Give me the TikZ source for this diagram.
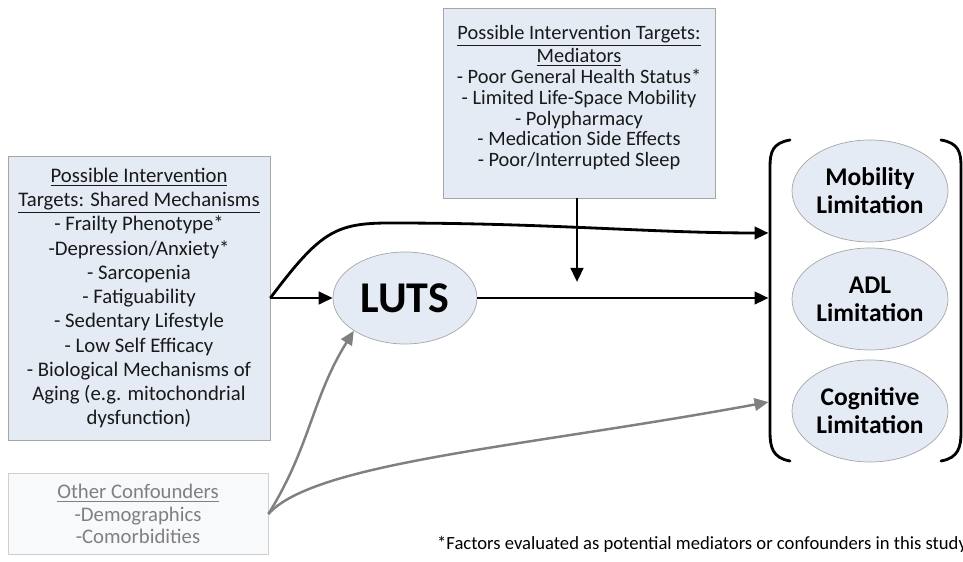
\documentclass[tikz,border=0pt]{standalone}
\usepackage{fontspec}
\setmainfont{Carlito}
\usepackage{tikz}
\usetikzlibrary{arrows.meta,shapes.geometric}
\definecolor{boxblue}{HTML}{E5EBF5}
\definecolor{boxedge}{HTML}{A6A6A6}
\definecolor{confgray}{HTML}{808080}
\definecolor{confedge}{HTML}{CFCFCF}
\definecolor{conffill}{HTML}{F8F9FB}

\begin{document}
\begin{tikzpicture}[
    tbox/.style={draw=boxedge,fill=boxblue,align=center,inner sep=2pt,text=black!90},
    oval/.style={ellipse,draw=boxedge,fill=boxblue,align=center,inner sep=0pt,font=\bfseries\fontsize{14.5}{16}\selectfont},
    bk/.style={-{Triangle[length=0.28cm,width=0.25cm]},line width=1.6pt},
    gr/.style={bk,draw=confgray,line width=1.4pt},
    paren/.style={line width=1.6pt,line cap=round}]
  \useasboundingbox (0,0) rectangle (19.26,11.24);
  \node[tbox,minimum width=5.24cm,minimum height=5.68cm,font=\fontsize{11.8}{13.8}\selectfont] (shared) at (2.78,5.28)
    {\underline{Possible Intervention}\\\underline{Targets: Shared Mechanisms}\\- Frailty Phenotype*\\-Depression/Anxiety*\\- Sarcopenia\\- Fatiguability\\- Sedentary Lifestyle\\- Low Self Efficacy\\- Biological Mechanisms of\\Aging (e.g. mitochondrial\\dysfunction)};
  \node[tbox,minimum width=5.44cm,minimum height=3.80cm,font=\fontsize{11.6}{11.9}\selectfont] (med) at (11.58,9.18)
    {\underline{Possible Intervention Targets:}\\\underline{Mediators}\\- Poor General Health Status*\\- Limited Life-Space Mobility\\- Polypharmacy\\- Medication Side Effects\\- Poor/Interrupted Sleep\\[-4pt]};
  \node[tbox,draw=confedge,fill=conffill,text=confgray,minimum width=5.2cm,minimum height=1.62cm,font=\fontsize{11.8}{12.8}\selectfont] (conf) at (2.76,0.96)
    {\underline{Other Confounders}\\-Demographics\\-Comorbidities};
  \node[oval,minimum width=2.88cm,minimum height=1.84cm,font=\bfseries\fontsize{25}{27}\selectfont] (luts) at (8.10,5.28) {LUTS};
  \node[oval,minimum width=3.12cm,minimum height=2.04cm] (mob) at (17.40,7.42) {Mobility\\Limitation};
  \node[oval,minimum width=3.12cm,minimum height=2.04cm] (adl) at (17.40,5.26) {ADL\\Limitation};
  \node[oval,minimum width=3.12cm,minimum height=2.04cm] (cog) at (17.40,3.02) {Cognitive\\Limitation};
  \node[anchor=west,font=\fontsize{10.6}{12}\selectfont] (note) at (8.62,0.36)
    {*Factors evaluated as potential mediators or confounders in this study};
  \draw[paren] (15.80,8.44) .. controls (15.45,8.38) and (15.40,8.2) .. (15.40,7.9) -- (15.40,2.6) .. controls (15.40,2.3) and (15.45,2.08) .. (15.80,2.02);
  \draw[paren] (18.82,8.44) .. controls (19.17,8.38) and (19.22,8.2) .. (19.22,7.9) -- (19.22,2.6) .. controls (19.22,2.3) and (19.17,2.08) .. (18.82,2.02);
  \coordinate (tomob) at (15.37,6.58);
  \coordinate (toadl) at (15.37,5.28);
  \coordinate (tocog) at (15.37,3.20);
  \coordinate (medtip) at (11.54,5.60);
  \draw[bk] (shared.east) -- (luts.west);
  \draw[bk] (shared.east) .. controls (6.4,6.6) and (6.7,6.78) .. (7.8,6.78) .. controls (11,6.78) and (13,6.58) .. (tomob);
  \draw[bk] (luts.east) -- (toadl);
  \draw[bk] (med.south -| medtip) -- (medtip);
  \draw[gr] (conf.east) to[out=58,in=238] (luts.south west);
  \draw[gr] (conf.east) .. controls (6.3,2.0) and (10.5,2.3) .. (tocog);
\end{tikzpicture}
\end{document}
